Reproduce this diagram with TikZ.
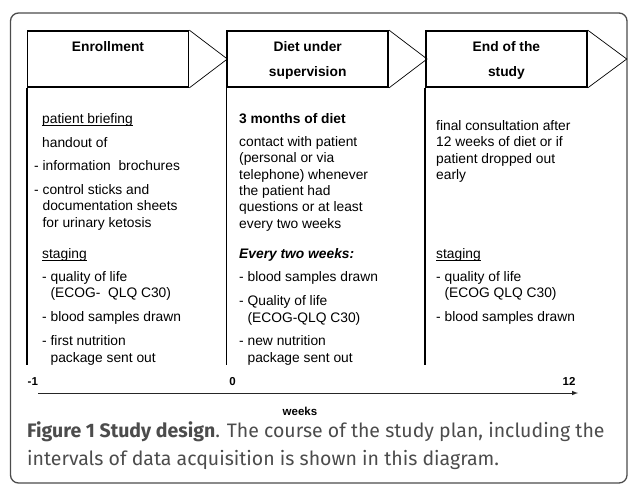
\documentclass[tikz,border=0pt]{standalone}
\usepackage{fontspec}
\setmainfont{Liberation Sans}
\newfontfamily\capfont{Fira Sans}
\usepackage{tikz}
\usetikzlibrary{arrows,positioning}
\tikzstyle{hdrNode} = [rectangle, minimum width=161pt, minimum height=56pt, line width=1.7pt, draw=black, inner sep=0pt]
\tikzstyle{hdrText} = [font=\bfseries\fontsize{13.8}{25}\selectfont, align=center, anchor=base, inner sep=0pt]
\tikzstyle{txtNode} = [font=\fontsize{13.8}{16.3}\selectfont, align=left, anchor=base west, inner sep=0pt]
\tikzstyle{tickNode} = [font=\bfseries\fontsize{11.5}{14}\selectfont, anchor=base, inner sep=0pt]
\tikzstyle{capNode} = [font=\capfont\fontsize{19.5}{28}\selectfont, text=black!70, anchor=base west, inner sep=0pt]
\tikzstyle{tipLine} = [line width=0.7pt, draw=black]
\tikzstyle{colLine} = [line width=1.7pt, draw=black]
\tikzstyle{axisArrow} = [line width=1pt, ->, >=latex, draw=black!85]
\newcommand{\undl}[1]{\setbox0\hbox{#1}\rlap{\rule[-2.3pt]{\wd0}{0.7pt}}#1}
\newcommand{\hgap}{\phantom{- }}

\begin{document}
\begin{tikzpicture}[x=1pt, y=-1pt, node distance=37pt]
    \useasboundingbox (0,0) rectangle (628,485);
    \draw[line width=1.3pt, draw=black!70, rounded corners=8pt] (10.5,13) rectangle (627,483);

    % header boxes
    \node (enroll) [hdrNode] at (108,59) {};
    \node (diet) [hdrNode, right=of enroll] {};
    \node (endst) [hdrNode, right=of diet, xshift=-1pt] {};
    \draw [tipLine] (enroll.north east) -- ([xshift=38pt]enroll.east) -- (enroll.south east);
    \draw [tipLine] (diet.north east) -- ([xshift=38pt]diet.east) -- (diet.south east);
    \draw [tipLine] (endst.north east) -- ([xshift=39pt]endst.east) -- (endst.south east);
    % multi-line nodes sit on their last baseline
    \node (enrollT) [hdrText] at ([yshift=-21pt]enroll.north) {Enrollment};
    \node (dietT) [hdrText] at ([yshift=-46pt]diet.north) {Diet under\\supervision};
    \node (endstT) [hdrText] at ([yshift=-46pt]endst.north) {End of the\\study};

    % column rules
    \draw [colLine] (enroll.south west) -- ++(0,277);
    \draw [colLine] (diet.south west) -- ++(0,277);
    \draw [colLine] (endst.south west) -- ++(0,277);

    % enrollment column
    \node (brief) [txtNode] at (42,123.5) {\undl{patient briefing}};
    \node (handout) [txtNode] at (42,147.5) {handout of};
    \node (brochure) [txtNode] at (34,170.5) {- information\ \ brochures};
    \node (sticks) [txtNode] at (34,227) {- control sticks and\\\hgap documentation sheets\\\hgap for urinary ketosis};
    \node (stageA) [txtNode] at (42,258.5) {\undl{staging}};
    \node (qolA) [txtNode] at (42,297.5) {- quality of life\\\hgap (ECOG-\ \ QLQ C30)};
    \node (bloodA) [txtNode] at (42,321.5) {- blood samples drawn};
    \node (pkgA) [txtNode] at (42,362) {- first nutrition\\\hgap package sent out};

    % diet column
    \node (months) [txtNode] at (239,123.5) {\textbf{3 months of diet}};
    \node (contact) [txtNode] at (239,228) {contact with patient\\(personal or via\\telephone) whenever\\the patient had\\questions or at least\\every two weeks};
    \node (every) [txtNode] at (239,258.5) {\textbf{\textit{Every two weeks:}}};
    \node (bloodB) [txtNode] at (239,281.5) {- blood samples drawn};
    \node (qolB) [txtNode] at (239,322) {- Quality of life\\\hgap (ECOG-QLQ C30)};
    \node (pkgB) [txtNode] at (239,362) {- new nutrition\\\hgap package sent out};

    % end column
    \node (final) [txtNode] at (436,179.5) {final consultation after\\12 weeks of diet or if\\patient dropped out\\early};
    \node (stageC) [txtNode] at (436,258.5) {\undl{staging}};
    \node (qolC) [txtNode] at (436,297.5) {- quality of life\\\hgap (ECOG QLQ C30)};
    \node (bloodC) [txtNode] at (436,321.5) {- blood samples drawn};

    % time axis
    \coordinate (tstart) at (38,393);
    \coordinate (tend) at (578,393);
    \draw [axisArrow] (tstart) -- (tend);
    \node (tm1) [tickNode, anchor=base west] at (27.5,385) {-1};
    \node (tzero) [tickNode] at (232.5,385) {0};
    \node (ttwelve) [tickNode] at (569,385) {12};
    \node (weeks) [tickNode] at (300,415) {weeks};

    % caption
    \node (capA) [capNode] at (27,437) {\textbf{Figure 1 Study design}. The course of the study plan, including the};
    \node (capB) [capNode] at (27,465) {intervals of data acquisition is shown in this diagram.};
\end{tikzpicture}
\end{document}
